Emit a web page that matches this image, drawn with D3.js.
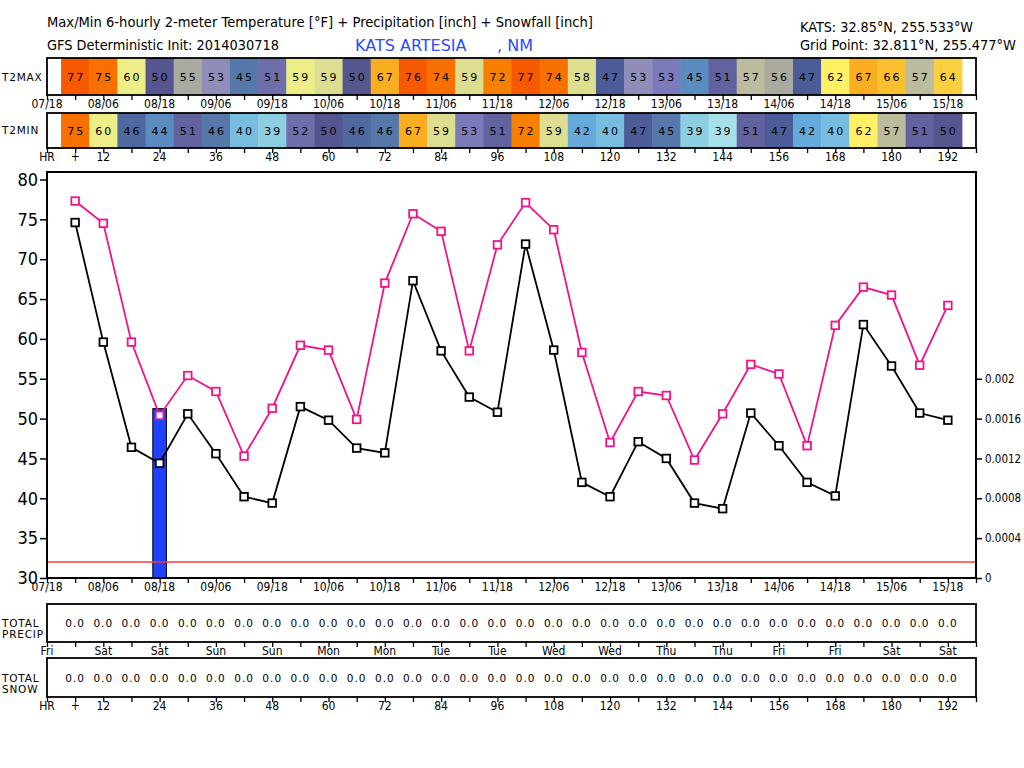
<!DOCTYPE html>
<html>
<head>
<meta charset="utf-8">
<script src="https://cdn.jsdelivr.net/npm/d3@7"></script>
<style>
  body { margin: 0; background: #fff; }
  text { font-family: "DejaVu Sans Condensed", "DejaVu Sans", sans-serif; fill: #000; }
</style>
</head>
<body>
<div id="chart"></div>
<script>
// forecast hours of each 6-hourly value (+6 .. 192)
var hours = d3.range(6, 193, 6);
var tmax = [77.3, 74.5, 59.6, 50.4, 55.4, 53.4, 45.3, 51.3, 59.2, 58.6, 49.9, 67.0, 75.7, 73.5, 58.5, 71.8,
            77.1, 73.7, 58.3, 47.0, 53.4, 52.9, 44.8, 50.6, 56.8, 55.6, 46.6, 61.7, 66.5, 65.5, 56.7, 64.2];
var tmin = [74.6, 59.6, 46.4, 44.4, 50.6, 45.6, 40.2, 39.4, 51.5, 49.8, 46.3, 45.7, 67.3, 58.5, 52.7, 50.8,
            71.9, 58.6, 42.0, 40.2, 47.1, 45.0, 39.4, 38.7, 50.7, 46.6, 42.0, 40.3, 61.8, 56.6, 50.7, 49.8];
// 6-hourly precipitation [inch] and snowfall [inch]
var precip = [0, 0, 0, 0.0017, 0, 0, 0, 0, 0, 0, 0, 0, 0, 0, 0, 0,
              0, 0, 0, 0, 0, 0, 0, 0, 0, 0, 0, 0, 0, 0, 0, 0];
var snow = [0, 0, 0, 0, 0, 0, 0, 0, 0, 0, 0, 0, 0, 0, 0, 0,
            0, 0, 0, 0, 0, 0, 0, 0, 0, 0, 0, 0, 0, 0, 0, 0];
// axis labels, every 12 h starting at hour 0
var dateLabels = ["07/18", "08/06", "08/18", "09/06", "09/18", "10/06", "10/18", "11/06", "11/18",
                  "12/06", "12/18", "13/06", "13/18", "14/06", "14/18", "15/06", "15/18"];
var dayLabels = ["Fri", "Sat", "Sat", "Sun", "Sun", "Mon", "Mon", "Tue", "Tue",
                 "Wed", "Wed", "Thu", "Thu", "Fri", "Fri", "Sat", "Sat"];
var hrLabels = ["HR", "+", "12", "24", "36", "48", "60", "72", "84", "96", "108", "120", "132", "144", "156", "168", "180", "192"];
var hrPos = [0, 6, 12, 24, 36, 48, 60, 72, 84, 96, 108, 120, 132, 144, 156, 168, 180, 192];
var tempTicks = [30, 35, 40, 45, 50, 55, 60, 65, 70, 75, 80];
var precipTicks = [0, 0.0004, 0.0008, 0.0012, 0.0016, 0.002];

var width = 1024, height = 768;
var left = 47, right = 976;

var svg = d3.select("#chart").append("svg")
  .attr("width", width)
  .attr("height", height);

var x = d3.scaleLinear().domain([0, 198]).range([left, right]);
var y = d3.scaleLinear().domain([30, 80]).range([578, 179.5]);
var yP = d3.scaleLinear().domain([0, 0.004]).range([578, 179.5]);

var tempColor = d3.scaleThreshold()
  .domain([39, 40, 41, 43, 45, 46, 46.5, 48, 50.45, 51.2, 52.5, 53.2, 54.5, 56, 58, 59, 61, 63, 65, 66, 68, 72.5, 75])
  .range(["#a6e0ea", "#8ccfe2", "#78bde0", "#66aadb", "#5a8cc0", "#5577aa", "#5068a0", "#4c5c98",
          "#555590", "#62629f", "#6e6eaa", "#7b7bbb", "#8e8eb8", "#aaaaa0", "#bbbb9e", "#dede90",
          "#eeee88", "#fff066", "#fbd040", "#fbc030", "#f9ae22", "#f78000", "#f77000", "#f55a00"]);

// header texts
svg.append("text").attr("x", 47).attr("y", 27).attr("font-size", 13.5)
  .attr("textLength", 546).attr("lengthAdjust", "spacingAndGlyphs")
  .style("font-family", "DejaVu Sans")
  .text("Max/Min 6-hourly 2-meter Temperature [°F] + Precipitation [inch] + Snowfall [inch]");
svg.append("text").attr("x", 47).attr("y", 50).attr("font-size", 13.5)
  .attr("textLength", 232).attr("lengthAdjust", "spacingAndGlyphs")
  .style("font-family", "DejaVu Sans")
  .text("GFS Deterministic Init: 2014030718");
svg.append("text").attr("x", 355).attr("y", 51).attr("font-size", 16)
  .attr("textLength", 178).attr("lengthAdjust", "spacing")
  .style("font-family", "DejaVu Sans").style("fill", "#2a4bff")
  .attr("xml:space", "preserve")
  .text("KATS ARTESIA      , NM");
svg.append("text").attr("x", 800).attr("y", 32).attr("font-size", 13.5)
  .attr("textLength", 173).attr("lengthAdjust", "spacingAndGlyphs")
  .style("font-family", "DejaVu Sans")
  .text("KATS: 32.85°N, 255.533°W");
svg.append("text").attr("x", 800).attr("y", 50).attr("font-size", 13.5)
  .attr("textLength", 216).attr("lengthAdjust", "spacingAndGlyphs")
  .style("font-family", "DejaVu Sans")
  .text("Grid Point: 32.811°N, 255.477°W");

// label at far left of a strip
function sideLabel(lines, y0) {
  lines.forEach(function (s, i) {
    svg.append("text").attr("x", 2).attr("y", y0 + i * 11)
      .attr("font-size", 10.5).style("letter-spacing", "0.8px")
      .style("font-family", "DejaVu Sans")
      .text(s);
  });
}

// an axis of ticks every 6 h with labels under a strip
function stripAxis(yPos, labels, positions, fs) {
  var g = svg.append("g").attr("transform", "translate(0," + yPos + ")");
  g.call(d3.axisBottom(x).tickValues(d3.range(0, 199, 6)).tickSize(5).tickSizeOuter(0).tickFormat(""));
  g.select(".domain").remove();
  g.selectAll(".tick line").attr("stroke", "#000").attr("stroke-width", 1.3);
  g.selectAll("text.lab").data(labels).enter().append("text")
    .attr("class", "lab")
    .attr("x", function (d, i) { return x(positions[i]); })
    .attr("y", 13)
    .attr("text-anchor", "middle")
    .attr("font-size", fs || 12)
    .text(function (d) { return d; });
}

// colored temperature strip
function tempStrip(vals, y0, y1) {
  var g = svg.append("g");
  g.selectAll("rect").data(vals).enter().append("rect")
    .attr("x", function (d, i) { return x(hours[i] - 3); })
    .attr("width", function (d, i) { return x(hours[i] + 3) - x(hours[i] - 3) + 0.5; })
    .attr("y", y0).attr("height", y1 - y0)
    .attr("fill", function (d) { return tempColor(d); });
  g.selectAll("text").data(vals).enter().append("text")
    .attr("x", function (d, i) { return x(hours[i]) + 1; })
    .attr("y", (y0 + y1) / 2 + 4)
    .attr("text-anchor", "middle")
    .attr("font-size", 11)
    .style("letter-spacing", "2px")
    .style("font-family", "DejaVu Sans")
    .text(function (d) { return Math.round(d); });
  g.append("rect").attr("x", left).attr("y", y0).attr("width", right - left).attr("height", y1 - y0)
    .attr("fill", "none").attr("stroke", "#000").attr("stroke-width", 1.8);
}

// value strip (precip / snow totals)
function valueStrip(vals, y0, y1) {
  var g = svg.append("g");
  g.append("rect").attr("x", left).attr("y", y0).attr("width", right - left).attr("height", y1 - y0)
    .attr("fill", "none").attr("stroke", "#000").attr("stroke-width", 1.8);
  g.selectAll("text").data(vals).enter().append("text")
    .attr("x", function (d, i) { return x(hours[i]); })
    .attr("y", (y0 + y1) / 2 + 4)
    .attr("text-anchor", "middle")
    .attr("font-size", 10.5)
    .style("letter-spacing", "1px")
    .style("font-family", "DejaVu Sans")
    .text(function (d) { return d.toFixed(1); });
}

sideLabel(["T2MAX"], 81);
tempStrip(tmax, 58, 95);
stripAxis(95, dateLabels, d3.range(0, 193, 12));
sideLabel(["T2MIN"], 134);
tempStrip(tmin, 113, 148);
stripAxis(148, hrLabels, hrPos);

// main plot
var plot = svg.append("g");
plot.selectAll("rect.bar").data(precip).enter()
  .filter(function (d) { return d > 0; })
  .append("rect").attr("class", "bar")
  .attr("x", function (d) { return x(hours[precip.indexOf(d)] - 1.45); })
  .attr("width", function (d) { return x(1.45) - x(-1.45); })
  .attr("y", function (d) { return yP(d); })
  .attr("height", function (d) { return yP(0) - yP(d); })
  .attr("fill", "#2040ff").attr("stroke", "#000").attr("stroke-width", 1);

plot.append("line").attr("x1", left).attr("x2", right)
  .attr("y1", y(32)).attr("y2", y(32))
  .attr("stroke", "#ff3a3a").attr("stroke-width", 1.5);

function series(vals, color) {
  var line = d3.line()
    .x(function (d, i) { return x(hours[i]); })
    .y(function (d) { return y(d); });
  plot.append("path").datum(vals).attr("d", line)
    .attr("fill", "none").attr("stroke", color).attr("stroke-width", 1.8);
  plot.selectAll(null).data(vals).enter().append("rect")
    .attr("x", function (d, i) { return x(hours[i]) - 3.8; })
    .attr("y", function (d) { return y(d) - 3.8; })
    .attr("width", 7.6).attr("height", 7.6)
    .attr("fill", "#fff").attr("stroke", color).attr("stroke-width", 1.8);
}
series(tmax, "#f0148c");
series(tmin, "#000");

plot.append("rect").attr("x", left).attr("y", 172).attr("width", right - left).attr("height", 578 - 172)
  .attr("fill", "none").attr("stroke", "#000").attr("stroke-width", 2);

var yAxis = svg.append("g").attr("transform", "translate(" + left + ",0)")
  .call(d3.axisLeft(y).tickValues(tempTicks).tickSize(7).tickSizeOuter(0));
yAxis.select(".domain").remove();
yAxis.selectAll(".tick line").attr("stroke-width", 1.5);
yAxis.selectAll("text").attr("font-size", 18).attr("x", -9).style("font-family", "DejaVu Sans Condensed");

var yAxisR = svg.append("g").attr("transform", "translate(" + right + ",0)")
  .call(d3.axisRight(yP).tickValues(precipTicks).tickSize(6).tickSizeOuter(0)
    .tickFormat(function (d) { return d === 0 ? "0" : d3.format(".4~f")(d); }));
yAxisR.select(".domain").remove();
yAxisR.selectAll(".tick line").attr("stroke-width", 1.5);
yAxisR.selectAll("text").attr("font-size", 11.5).attr("x", 9);

stripAxis(578, dateLabels, d3.range(0, 193, 12));

sideLabel(["TOTAL", "PRECIP"], 627);
valueStrip(precip, 604, 642);
stripAxis(642, dayLabels, d3.range(0, 193, 12));
sideLabel(["TOTAL", "SNOW"], 682);
valueStrip(snow, 658, 697);
stripAxis(697, hrLabels, hrPos);
</script>
</body>
</html>
